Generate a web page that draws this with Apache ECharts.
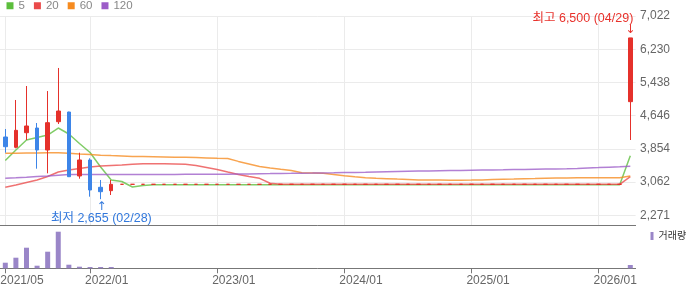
<!DOCTYPE html>
<html>
<head>
<meta charset="utf-8">
<script src="https://cdn.jsdelivr.net/npm/echarts@6/dist/echarts.min.js"></script>
<style>
html,body{margin:0;padding:0;background:#fff;}
#chart{width:700px;height:289px;}
</style>
</head>
<body>
<div id="chart"></div>
<script>
const categories = [
  '2021/05','2021/06','2021/07','2021/08','2021/09','2021/10','2021/11','2021/12',
  '2022/01','2022/02','2022/03','2022/04','2022/05','2022/06','2022/07','2022/08','2022/09','2022/10','2022/11','2022/12',
  '2023/01','2023/02','2023/03','2023/04','2023/05','2023/06','2023/07','2023/08','2023/09','2023/10','2023/11','2023/12',
  '2024/01','2024/02','2024/03','2024/04','2024/05','2024/06','2024/07','2024/08','2024/09','2024/10','2024/11','2024/12',
  '2025/01','2025/02','2025/03','2025/04','2025/05','2025/06','2025/07','2025/08','2025/09','2025/10','2025/11','2025/12',
  '2026/01','2026/02','2026/03','2026/04'
];
// 2021/05 .. 2022/03 (11 months), 2022/04 .. 2026/03 (48 months, trading halted), 2026/04
const opens = [4138,3892,4240,4352,3828,4502,4733,3208,3590,2939,2858,
  3010,3010,3010,3010,3010,3010,3010,3010,3010,3010,3010,3010,
  3010,3010,3010,3010,3010,3010,3010,3010,3010,3010,3010,3010,
  3010,3010,3010,3010,3010,3010,3010,3010,3010,3010,3010,3010,
  3010,3010,3010,3010,3010,3010,3010,3010,3010,3010,3010,3010,
  4980];
const closes = [3906,4297,4400,3828,4479,4757,3191,3590,2874,2834,3010,
  3010,3010,3010,3010,3010,3010,3010,3010,3010,3010,3010,3010,
  3010,3010,3010,3010,3010,3010,3010,3010,3010,3010,3010,3010,
  3010,3010,3010,3010,3010,3010,3010,3010,3010,3010,3010,3010,
  3010,3010,3010,3010,3010,3010,3010,3010,3010,3010,3010,3010,
  6500];
const lows = [3764,3868,4066,3382,3272,4448,3185,3144,2715,2655,2755,
  3010,3010,3010,3010,3010,3010,3010,3010,3010,3010,3010,3010,
  3010,3010,3010,3010,3010,3010,3010,3010,3010,3010,3010,3010,
  3010,3010,3010,3010,3010,3010,3010,3010,3010,3010,3010,3010,
  3010,3010,3010,3010,3010,3010,3010,3010,3010,3010,3010,3010,
  4066];
const highs = [4328,5020,5353,4471,5233,5783,4740,3763,3630,3113,3113,
  3010,3010,3010,3010,3010,3010,3010,3010,3010,3010,3010,3010,
  3010,3010,3010,3010,3010,3010,3010,3010,3010,3010,3010,3010,
  3010,3010,3010,3010,3010,3010,3010,3010,3010,3010,3010,3010,
  3010,3010,3010,3010,3010,3010,3010,3010,3010,3010,3010,3010,
  6500];
const volumes = [560,1060,2060,260,1660,3660,360,160,130,130,130,
  0,0,0,0,0,0,0,0,0,0,0,0,
  0,0,0,0,0,0,0,0,0,0,0,0,
  0,0,0,0,0,0,0,0,0,0,0,0,
  0,0,0,0,0,0,0,0,0,0,0,0,
  330];
const ma5 = [3577,3828,4066,4126,4185,4352,4209,3983,3768,3423,3113,3077,2946,2982,
  3000,3000,3000,3000,3000,3000,3000,3000,3000,3000,3000,3000,3000,3000,3000,
  3000,3000,3000,3000,3000,3000,3000,3000,3000,3000,3000,3000,3000,3000,3000,
  3000,3000,3000,3000,3000,3000,3000,3000,3000,3000,3000,3000,3000,3000,3000,
  3692];
const ma20 = [2938,2993,3053,3113,3196,3303,3351,3387,3423,3446,3458,3470,3487,3499,3501,3499,3494,3487,3458,3411,
  3363,3303,3244,3196,3153,3034,3010,
  3010,3010,3010,3010,3010,3010,3010,3010,3010,3010,3010,3010,3010,3010,3010,3010,
  3010,3010,3010,3010,3010,3010,3010,3010,3010,3010,3010,3010,3010,3010,3010,3010,
  3191];
const ma60 = [3749,3751,3756,3758,3761,3763,3751,3732,3718,3704,3694,3685,3675,3671,3666,3661,3656,3652,3647,3640,
  3630,3623,3556,3494,3432,3399,3368,3341,3287,3280,3272,3244,3213,3189,3168,3153,3144,3134,3125,3115,
  3113,3110,3108,3106,3110,3115,3122,3129,3134,3141,3146,3153,3158,3163,3168,3168,3168,3168,3165,3208];
const ma120 = [3153,3165,3179,3194,3208,3227,3241,3244,3244,3244,3244,3244,3246,3246,3246,3246,3246,3249,3249,3249,
  3249,3251,3256,3258,3263,3265,3270,3272,3275,3277,3280,3284,3289,3294,3299,3306,3311,3315,3320,3325,
  3327,3332,3337,3339,3344,3349,3353,3356,3361,3365,3370,3375,3377,3382,3389,3399,3408,3418,3427,3439];
const maNames = ['5','20','60','120'];
const maColors = ['#5cbe3c','#ea4a4a','#f68b1f','#9c5cc8'];
const yTicks = [2271,3062,3854,4646,5438,6230,7022];
const xTickLabels = ['2021/05','2022/01','2023/01','2024/01','2025/01','2026/01'];
const highNote = '최고 6,500 (04/29)';
const lowNote = '최저 2,655 (02/28)';
const volumeName = '거래량';

const FONT = "'Liberation Sans','Noto Sans CJK KR',sans-serif";
const ARROW_FONT = "'DejaVu Sans',sans-serif";
const showTick = (i, v) => xTickLabels.indexOf(v) >= 0;
const candleData = categories.map((c, i) => [opens[i], closes[i], lows[i], highs[i]]);

const chart = echarts.init(document.getElementById('chart'), null, {renderer: 'canvas'});
const maSeries = [ma5, ma20, ma60, ma120].map((arr, i) => ({
  name: maNames[i], type: 'line', data: arr, xAxisIndex: 0, yAxisIndex: 0,
  showSymbol: false, symbol: 'none', silent: true, z: 2,
  lineStyle: {width: 1.5, color: maColors[i], opacity: 0.78},
  itemStyle: {color: maColors[i]}
}));

const hidden = {color: 'rgba(0,0,0,0)', borderWidth: 0};
const note = (type, dim, text, color, align, offset, size, family) => ({
  type: type, valueDim: dim, symbol: 'circle', symbolSize: 1, itemStyle: hidden,
  label: {show: true, position: 'inside', formatter: text, align: align, verticalAlign: 'middle',
    offset: offset, color: color, fontSize: size, fontFamily: family}
});

chart.setOption({
  animation: false,
  textStyle: {fontFamily: FONT},
  legend: [
    {data: maNames, left: 6.5, top: 0, padding: 0, itemGap: 9, itemWidth: 7, itemHeight: 7, icon: 'rect',
     textStyle: {color: '#888', fontSize: 11.5, fontFamily: FONT}, selectedMode: false},
    {data: [volumeName], left: 650.5, top: 231, padding: 0, itemWidth: 3, itemHeight: 8, icon: 'rect',
     textStyle: {color: '#333', fontSize: 10, fontFamily: FONT}, selectedMode: false}
  ],
  grid: [
    {left: 0, right: 64.4, top: 16, bottom: 63.5, outerBoundsMode: 'none'},
    {left: 0, right: 64.4, top: 226, bottom: 20.7, outerBoundsMode: 'none'}
  ],
  xAxis: [
    {type: 'category', gridIndex: 0, data: categories, boundaryGap: true,
     axisLine: {show: true, lineStyle: {color: '#777', width: 1}},
     axisTick: {show: false}, axisLabel: {show: false},
     splitLine: {show: true, interval: showTick, alignWithLabel: true, lineStyle: {color: '#ebebeb', width: 1}}},
    {type: 'category', gridIndex: 1, data: categories, boundaryGap: true,
     axisLine: {show: true, lineStyle: {color: '#777', width: 1}},
     axisTick: {show: true, interval: showTick, alignWithLabel: true, length: 5, lineStyle: {color: '#777'}},
     axisLabel: {show: true, interval: showTick, align: 'left', padding: [0, 0, 0, -5], margin: 6,
       color: '#666', fontSize: 12, fontFamily: FONT},
     splitLine: {show: false}}
  ],
  yAxis: [
    {type: 'value', gridIndex: 0, position: 'right', min: 2028, max: 7022, scale: true,
     axisLine: {show: false}, axisTick: {show: false, customValues: yTicks},
     axisLabel: {customValues: yTicks, margin: 4.4, color: '#666', fontSize: 12, fontFamily: FONT,
       formatter: v => Math.round(v).toLocaleString('en-US')},
     splitLine: {show: true, lineStyle: {color: '#ebebeb', width: 1}}},
    {type: 'value', gridIndex: 1, min: 0, max: 4230, show: false, splitLine: {show: false}}
  ],
  series: [
    ...maSeries,
    {name: 'price', type: 'candlestick', xAxisIndex: 0, yAxisIndex: 0, data: candleData, barWidth: 4, z: 3,
     itemStyle: {color: '#e5312b', color0: '#3d85e8', borderColor: '#e5312b', borderColor0: '#3d85e8',
       borderColorDoji: '#e5312b', borderWidth: 1},
     markPoint: {
       silent: true, animation: false,
       data: [
         note('max', 'highest', highNote, '#e8322c', 'right', [3, -19.8], 12.5, FONT),
         note('max', 'highest', '↓', '#e8322c', 'center', [0, -8], 12, ARROW_FONT),
         note('min', 'lowest', lowNote, '#3278dc', 'center', [0.7, 19.5], 12.5, FONT),
         note('min', 'lowest', '↑', '#3278dc', 'center', [1, 7.5], 12, ARROW_FONT)
       ]
     }},
    {name: volumeName, type: 'bar', xAxisIndex: 1, yAxisIndex: 1, data: volumes, barWidth: 5,
     itemStyle: {color: '#9a86c8'}, silent: true}
  ]
});
</script>
</body>
</html>
